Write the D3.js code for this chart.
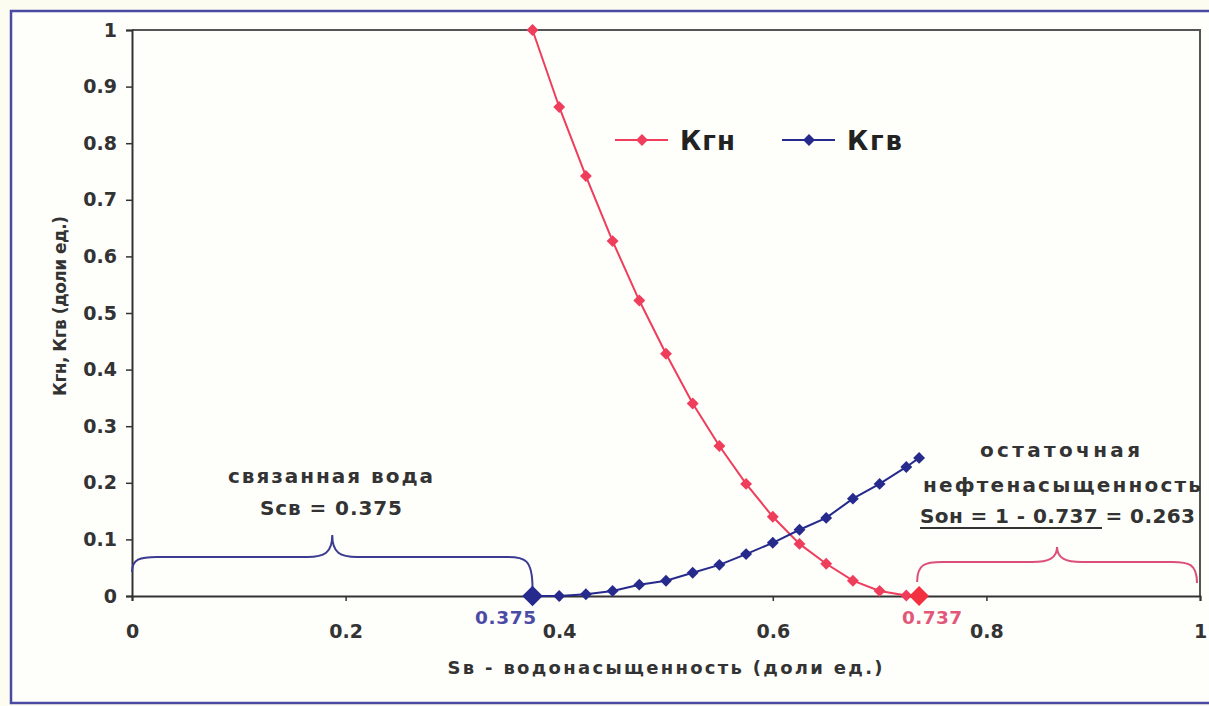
<!DOCTYPE html>
<html lang="ru">
<head>
<meta charset="utf-8">
<title>Кгн, Кгв</title>
<script src="https://d3js.org/d3.v7.min.js"></script>
<style>
  body { margin: 0; background: #fdfcf0; }
  svg { display: block; font-family: "DejaVu Sans", sans-serif; font-weight: bold; }
</style>
</head>
<body>
<div id="chart"></div>
<script>
// водонасыщенность, шаг 0.025 + конечная точка
var sw = [0.375, 0.4, 0.425, 0.45, 0.475, 0.5, 0.525, 0.55, 0.575, 0.6, 0.625, 0.65, 0.675, 0.7, 0.725, 0.737];
var kgn = [1, 0.864, 0.742, 0.627, 0.522, 0.428, 0.340, 0.265, 0.198, 0.140, 0.092, 0.057, 0.027, 0.009, 0.001, 0];
var kgv = [0, 0, 0.003, 0.009, 0.02, 0.027, 0.041, 0.055, 0.074, 0.094, 0.117, 0.138, 0.172, 0.198, 0.228, 0.244];
var xTicks = [0, 0.2, 0.4, 0.6, 0.8, 1];
var yTicks = [0, 0.1, 0.2, 0.3, 0.4, 0.5, 0.6, 0.7, 0.8, 0.9, 1];
var swc = 0.375, swMax = 0.737;

var w = 1209, h = 706;
var red = "#ef3d5c", blue = "#262a8c";

var svg = d3.select("#chart").append("svg")
    .attr("width", w).attr("height", h);

// внешняя рамка
svg.append("rect").attr("x", 11).attr("y", 11).attr("width", w).attr("height", h - 14)
    .attr("fill", "#fefefb").attr("stroke", "#4a4aa2").attr("stroke-width", 2.5);

var x = d3.scaleLinear().domain([0, 1]).range([132, 1200]);
var y = d3.scaleLinear().domain([0, 1]).range([596, 30]);

// рамка области графика
svg.append("path")
    .attr("d", "M" + x(0) + "," + y(1) + "H" + x(1) + "V" + y(0))
    .attr("fill", "none").attr("stroke", "#555").attr("stroke-width", 2);

var xAxis = svg.append("g").attr("transform", "translate(0," + y(0) + ")")
    .call(d3.axisBottom(x).tickValues(xTicks).tickFormat(d3.format("")).tickSize(5).tickPadding(24));
var yAxis = svg.append("g").attr("transform", "translate(" + x(0) + ",0)")
    .call(d3.axisLeft(y).tickValues(yTicks).tickFormat(d3.format("")).tickSize(6).tickPadding(9));
[xAxis, yAxis].forEach(function(a) {
    a.select(".domain").attr("stroke", "#333").attr("stroke-width", 2);
    a.selectAll(".tick line").attr("stroke", "#333").attr("stroke-width", 1.5);
    a.selectAll("text").attr("font-size", 19).attr("font-weight", "bold")
        .attr("font-family", "DejaVu Sans, sans-serif").attr("fill", "#333");
});

// подписи осей
svg.append("text").attr("x", 665).attr("y", 674).attr("text-anchor", "middle")
    .attr("font-size", 18).attr("fill", "#333")
    .attr("textLength", 435).attr("lengthAdjust", "spacing")
    .text("Sв - водонасыщенность (доли ед.)");
svg.append("text").attr("transform", "translate(66,306) rotate(-90)").attr("text-anchor", "middle")
    .attr("font-size", 17).attr("fill", "#333")
    .attr("textLength", 180).attr("lengthAdjust", "spacing")
    .text("Кгн, Кгв (доли ед.)");

// фигурные скобки
function brace(x0, x1, yL, yR, yBar, yPeak) {
    var xm = (x0 + x1) / 2;
    return "M" + x0 + "," + yL +
        "C" + x0 + "," + (yBar + 2) + " " + (x0 + 8) + "," + yBar + " " + (x0 + 25) + "," + yBar +
        "L" + (xm - 25) + "," + yBar +
        "C" + (xm - 8) + "," + yBar + " " + xm + "," + (yBar - 4) + " " + xm + "," + yPeak +
        "C" + xm + "," + (yBar - 4) + " " + (xm + 8) + "," + yBar + " " + (xm + 25) + "," + yBar +
        "L" + (x1 - 25) + "," + yBar +
        "C" + (x1 - 8) + "," + yBar + " " + x1 + "," + (yBar + 2) + " " + x1 + "," + yR;
}
svg.append("path").attr("d", brace(x(0), x(swc), 572, 588, 557, 535))
    .attr("fill", "none").attr("stroke", "#3b3b92").attr("stroke-width", 2);
svg.append("path").attr("d", brace(x(swMax) - 2, x(1) - 3, 582, 583, 562, 547))
    .attr("fill", "none").attr("stroke", "#dc4f78").attr("stroke-width", 2);

// линии и маркеры
var series = [{v: kgn, c: red}, {v: kgv, c: blue}];
var line = d3.line().x(function(d) { return x(d[0]); }).y(function(d) { return y(d[1]); });
var diamond = d3.symbol().type(d3.symbolDiamond2);
series.forEach(function(s) {
    var pts = sw.map(function(v, i) { return [v, s.v[i]]; });
    svg.append("path").datum(pts).attr("d", line)
        .attr("fill", "none").attr("stroke", s.c).attr("stroke-width", 2);
    svg.selectAll(null).data(pts).enter().append("path")
        .attr("transform", function(d) { return "translate(" + x(d[0]) + "," + y(d[1]) + ")"; })
        .attr("d", diamond.size(90)())
        .attr("fill", s.c);
});
// выделенные точки
svg.append("path").attr("transform", "translate(" + x(swc) + "," + y(0) + ")")
    .attr("d", diamond.size(270)()).attr("fill", blue);
svg.append("path").attr("transform", "translate(" + x(swMax) + "," + y(0) + ")")
    .attr("d", diamond.size(250)()).attr("fill", "#f2303f");

svg.append("text").attr("x", 475).attr("y", 624).attr("textLength", 61)
    .attr("font-size", 18.5).attr("fill", "#4b4ba6").text("0.375");
svg.append("text").attr("x", 902).attr("y", 624).attr("textLength", 60)
    .attr("font-size", 18.5).attr("fill", "#e2587a").text("0.737");

// легенда
var legend = [{name: "Кгн", c: red, x: 615}, {name: "Кгв", c: blue, x: 782}];
legend.forEach(function(l) {
    svg.append("line").attr("x1", l.x).attr("x2", l.x + 53).attr("y1", 140).attr("y2", 140)
        .attr("stroke", l.c).attr("stroke-width", 2);
    svg.append("path").attr("transform", "translate(" + (l.x + 27) + ",140)")
        .attr("d", diamond.size(90)()).attr("fill", l.c);
    svg.append("text").attr("x", l.x + 65).attr("y", 150).attr("font-size", 26).attr("fill", "#222")
        .attr("textLength", 55).text(l.name);
});

// пояснения
var notes = [
    {t: "связанная вода", x: 228, y: 483, len: 205},
    {t: "Sсв = 0.375", x: 260, y: 515, len: 142},
    {t: "остаточная", x: 980, y: 457, len: 160},
    {t: "нефтенасыщенность", x: 923, y: 492, len: 278},
    {t: "Sон = 1 - 0.737 = 0.263", x: 920, y: 523, len: 275}
];
var note = svg.append("g").attr("fill", "#333").attr("font-size", 20);
notes.forEach(function(n) {
    note.append("text").attr("x", n.x).attr("y", n.y)
        .attr("textLength", n.len).attr("lengthAdjust", "spacing").text(n.t);
});
note.append("line").attr("x1", 920).attr("x2", 1102).attr("y1", 528).attr("y2", 528)
    .attr("stroke", "#333").attr("stroke-width", 2);
</script>
</body>
</html>
